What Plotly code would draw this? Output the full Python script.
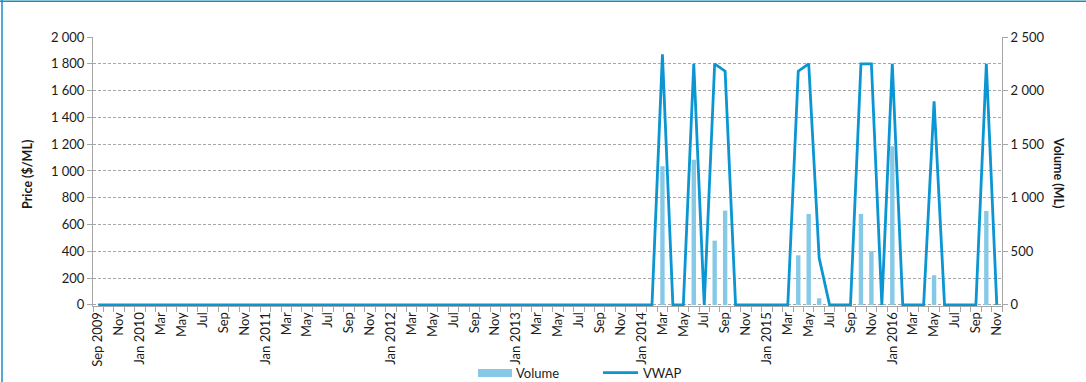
import plotly.graph_objects as go
import pandas as pd

# ---- data ----
months = pd.date_range("2009-09-01", "2016-11-01", freq="MS")

# VWAP price ($/ML), Sep 2009 .. Nov 2016
vwap = [
    0, 0, 0, 0,                                      # Sep-Dec 2009
    0, 0, 0, 0, 0, 0, 0, 0, 0, 0, 0, 0,              # 2010
    0, 0, 0, 0, 0, 0, 0, 0, 0, 0, 0, 0,              # 2011
    0, 0, 0, 0, 0, 0, 0, 0, 0, 0, 0, 0,              # 2012
    0, 0, 0, 0, 0, 0, 0, 0, 0, 0, 0, 0,              # 2013
    0, 0, 1870, 0, 0, 1800, 0, 1800, 1745, 0, 0, 0,  # 2014
    0, 0, 0, 1745, 1800, 350, 0, 0, 0, 1800, 1800, 0,  # 2015
    1800, 0, 0, 0, 1520, 0, 0, 0, 0, 1800, 0,        # Jan-Nov 2016
]

# Traded volume (ML)
volume = [
    0, 0, 0, 0,
    0, 0, 0, 0, 0, 0, 0, 0, 0, 0, 0, 0,
    0, 0, 0, 0, 0, 0, 0, 0, 0, 0, 0, 0,
    0, 0, 0, 0, 0, 0, 0, 0, 0, 0, 0, 0,
    0, 0, 0, 0, 0, 0, 0, 0, 0, 0, 0, 0,
    0, 0, 1295, 0, 0, 1355, 0, 600, 880, 0, 0, 0,
    0, 0, 0, 463, 849, 62, 0, 0, 0, 849, 501, 0,
    1480, 0, 0, 0, 277, 0, 0, 0, 0, 877, 0,
]

# tick labels every second month
def short_label(d):
    return d.strftime("%b %Y") if (d.month == 1 or d == months[0]) else d.strftime("%b")

x = list(range(len(months)))
tick_vals = x[::2]
tick_text = [short_label(months[i]) for i in tick_vals]

# ---- layout geometry (pixels) ----
W, H = 1086, 382
L, R, T, B = 93, 1002, 37, 306
PW, PH = R - L, B - T

def px(xp):
    return (xp - L) / PW

def py(yp):
    return (B - yp) / PH

FONT = "Lato, 'Open Sans', sans-serif"
TXT = "#1a1a1a"
GRID = "#a6a6a6"
BAR_C = "#86c9e7"
LINE_C = "#0a95d3"
FS = 13

fig = go.Figure()
fig.add_trace(go.Bar(
    x=x, y=volume, name="Volume", yaxis="y2",
    marker=dict(color=BAR_C, line=dict(width=0)), width=0.42,
    showlegend=False,
))
fig.add_trace(go.Scatter(
    x=x, y=vwap, name="VWAP", mode="lines",
    line=dict(color=LINE_C, width=2.8),
    showlegend=False,
))

fig.update_layout(
    width=W, height=H,
    margin=dict(l=L, r=W - R, t=T, b=H - B, pad=0),
    paper_bgcolor="white", plot_bgcolor="white",
    separators=". ",
    font=dict(family=FONT, size=FS, color=TXT),
    barmode="overlay",
    xaxis=dict(
        range=[-0.5, len(months) - 0.5],
        tickmode="array", tickvals=tick_vals, ticktext=tick_text,
        tickangle=-90, ticks="", showgrid=False, zeroline=False,
        showline=True, linecolor=GRID, linewidth=1,
        tickfont=dict(size=FS, color=TXT),
        minor=dict(tickmode="array",
                   tickvals=[i - 0.5 for i in range(len(months) + 1)],
                   ticks="outside", ticklen=5, tickcolor=GRID, showgrid=False),
    ),
    yaxis=dict(
        range=[-8, 2000], tickmode="array",
        tickvals=list(range(0, 2001, 200)),
        tickformat=",d", ticks="outside", ticklen=5, tickcolor=GRID,
        showgrid=True, gridcolor=GRID, griddash="3px,2px", gridwidth=1,
        zeroline=False, showline=True, linecolor=GRID, linewidth=1,
        tickfont=dict(size=FS, color=TXT),
    ),
    yaxis2=dict(
        range=[-10, 2500], overlaying="y", side="right", tickmode="array",
        tickvals=list(range(0, 2501, 500)),
        tickformat=",d", ticks="outside", ticklen=5, tickcolor=GRID,
        showgrid=False, zeroline=False, showline=True, linecolor=GRID,
        linewidth=1, tickfont=dict(size=FS, color=TXT),
    ),
)

# axis titles
fig.add_annotation(text="<b>Price ($/ML)</b>", xref="paper", yref="paper",
                   x=px(27), y=py(175), textangle=-90, showarrow=False,
                   font=dict(size=12.5, color=TXT), xanchor="center", yanchor="middle")
fig.add_annotation(text="<b>Volume (ML)</b>", xref="paper", yref="paper",
                   x=px(1059), y=py(172), textangle=90, showarrow=False,
                   font=dict(size=12.5, color=TXT), xanchor="center", yanchor="middle")

# custom legend
fig.add_shape(type="rect", xref="paper", yref="paper",
              x0=px(478), x1=px(512), y0=py(369), y1=py(377),
              fillcolor=BAR_C, line=dict(width=0))
fig.add_annotation(text="Volume", xref="paper", yref="paper", x=px(514), y=py(373),
                   xanchor="left", yanchor="middle", showarrow=False,
                   font=dict(size=FS, color=TXT))
fig.add_shape(type="line", xref="paper", yref="paper",
              x0=px(603), x1=px(638), y0=py(372.7), y1=py(372.7),
              line=dict(color=LINE_C, width=2.8))
fig.add_annotation(text="VWAP", xref="paper", yref="paper", x=px(641), y=py(373),
                   xanchor="left", yanchor="middle", showarrow=False,
                   font=dict(size=FS, color=TXT))

# chart frame (left and top edges visible)
fig.add_shape(type="line", xref="paper", yref="paper",
              x0=px(2), x1=px(2), y0=py(0), y1=py(H), line=dict(color="#1b8cbf", width=1.5))
fig.add_shape(type="line", xref="paper", yref="paper",
              x0=px(0), x1=px(W), y0=py(1.2), y1=py(1.2), line=dict(color="#1b8cbf", width=1.5))

fig.write_html(
    "out.html",
    config={"displayModeBar": False},
    post_script="document.body.style.margin='0px';document.body.style.overflow='hidden';",
)
